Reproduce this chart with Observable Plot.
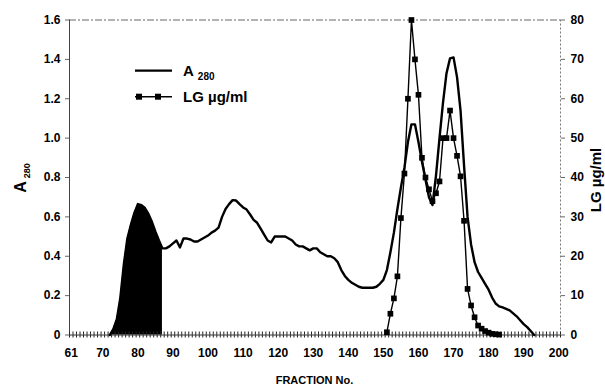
<!DOCTYPE html>
<html><head><meta charset="utf-8">
<script src="https://cdn.jsdelivr.net/npm/d3@7"></script>
<script src="https://cdn.jsdelivr.net/npm/@observablehq/plot@0.6"></script>
<style>
body{margin:0;background:#fff;}
#chart svg{display:block;}
</style></head><body><div id="chart"></div>
<script>
// A280 absorbance per fraction
const a280Fractions = [72,73,74,75,76,77,78,79,80,81,82,83,84,85,86,87,88,89,90,91,92,93,94,95,96,97,98,99,100,
  101,102,103,104,105,106,107,108,109,110,111,112,113,114,115,116,117,118,119,120,
  121,122,123,124,125,126,127,128,129,130,131,132,133,134,135,136,137,138,139,140,
  141,142,143,144,145,146,147,148,149,150,151,152,153,154,155,156,157,158,159,160,
  161,162,163,164,165,166,167,168,169,170,171,172,173,174,175,176,177,178,179,180,
  181,182,183,184,185,186,187,188,189,190,191,192,193];
const a280Values = [0,0.03,0.08,0.19,0.36,0.49,0.56,0.62,0.665,0.66,0.645,0.615,0.575,0.525,0.48,0.44,0.44,0.45,0.465,0.48,0.445,0.49,0.49,0.485,0.475,0.475,0.485,0.495,0.505,
  0.52,0.53,0.545,0.6,0.64,0.665,0.685,0.683,0.665,0.648,0.637,0.612,0.585,0.57,0.54,0.51,0.48,0.47,0.5,0.5,
  0.5,0.5,0.49,0.48,0.46,0.45,0.45,0.44,0.43,0.44,0.44,0.42,0.41,0.4,0.4,0.39,0.37,0.33,0.3,0.28,
  0.265,0.255,0.245,0.24,0.24,0.24,0.24,0.245,0.26,0.28,0.33,0.42,0.52,0.64,0.75,0.85,0.98,1.07,1.07,0.98,
  0.88,0.79,0.7,0.66,0.81,1.0,1.18,1.33,1.405,1.41,1.31,1.14,0.86,0.6,0.46,0.37,0.32,0.29,0.26,0.23,
  0.19,0.16,0.145,0.14,0.133,0.125,0.11,0.095,0.075,0.055,0.04,0.02,0];
// LG concentration (µg/ml) per fraction
const lgFractions = [151,152,153,154,155,156,157,158,159,160,161,162,163,164,165,166,167,168,169,170,
  171,172,173,174,175,176,177,178,179,180,181,182,183];
const lgValues = [0.7,5.4,9.3,14.9,29.7,41,60,80,70,61,45,40,37,34,36,39,50,50,57,50,
  45.5,40.3,29,11.7,7.5,4.5,2.4,1.6,1.0,0.6,0.3,0.2,0.1];
const shadedFractions = [72,87];          // black-filled pool
const xTickLabels = [61,70,80,90,100,110,120,130,140,150,160,170,180,190,200];
const leftTickLabels = [0,0.2,0.4,0.6,0.8,1.0,1.2,1.4,1.6];
const rightTickLabels = [0,10,20,30,40,50,60,70,80];

const k = 1.6 / 80; // right axis (LG) to left axis (A280)
const a280 = a280Fractions.map((f, i) => ({f, v: a280Values[i]}));
const lg = lgFractions.map((f, i) => ({f, v: lgValues[i] * k}));
const shaded = a280.filter(d => d.f >= shadedFractions[0] && d.f <= shadedFractions[1]);
const minorTicks = d3.range(60.5, 201, 1);

const font = "Liberation Sans, Arial, Helvetica, sans-serif";
const plot = Plot.plot({
  width: 605, height: 391,
  marginLeft: 69, marginRight: 45, marginTop: 19.5, marginBottom: 56.5,
  style: {fontFamily: font, fontSize: "12px", fontWeight: "bold", color: "#000", background: "#fff"},
  x: {domain: [60.5, 200.5]},
  y: {domain: [0, 1.6]},
  marks: [
    Plot.areaY(shaded, {x: "f", y: "v", fill: "#000"}),
    Plot.ruleY([1.6], {stroke: "#666", strokeWidth: 1, strokeDasharray: "7,2,2,2"}),
    Plot.ruleX([200.5], {stroke: "#777", strokeWidth: 1, strokeDasharray: "2,2"}),
    Plot.ruleX([60.5], {stroke: "#444", strokeWidth: 1}),
    Plot.axisX({ticks: minorTicks, tickSize: 3, tickFormat: () => "", label: null, stroke: "#222"}),
    Plot.axisX({ticks: minorTicks, tickSize: 3, tickFormat: () => "", label: null, stroke: "#222", dy: -3}),
    Plot.ruleY([0], {stroke: "#333", strokeWidth: 1}),
    Plot.axisX({ticks: xTickLabels, tickSize: 0, tickPadding: 13, label: null, tickFormat: d => String(d)}),
    Plot.axisY({anchor: "left", ticks: leftTickLabels, tickSize: 4, tickPadding: 5, label: null,
      tickFormat: d => d === 0 ? "0" : d.toFixed(1), stroke: "#666"}),
    Plot.axisY({anchor: "right", ticks: rightTickLabels.map(t => t * k), tickSize: 4, tickPadding: 6, label: null,
      tickFormat: d => String(Math.round(d / k)), stroke: "#666"}),
    Plot.lineY(a280, {x: "f", y: "v", stroke: "#000", strokeWidth: 2.4, curve: "linear"}),
    Plot.lineY(lg, {x: "f", y: "v", stroke: "#000", strokeWidth: 1.4}),
    Plot.dot(lg, {x: "f", y: "v", symbol: "square", r: 3.2, fill: "#000", stroke: "none"})
  ]
});
document.getElementById("chart").appendChild(plot);

const svg = d3.select(plot);
// axis titles
svg.append("text").attr("x", 314.5).attr("y", 384).attr("text-anchor", "middle")
  .attr("font-family", font).attr("font-weight", "bold").attr("font-size", 11).text("FRACTION No.");
const yl = svg.append("text").attr("transform", "translate(26,178) rotate(-90)").attr("text-anchor", "middle")
  .attr("font-family", font).attr("font-weight", "bold");
yl.append("tspan").attr("font-size", 16).text("A");
yl.append("tspan").attr("font-size", 9).attr("dx", 3).attr("dy", 4).text("280");
svg.append("text").attr("transform", "translate(601,180) rotate(-90)").attr("text-anchor", "middle")
  .attr("font-family", font).attr("font-weight", "bold").attr("font-size", 15).text("LG µg/ml");
// legend
const lgd = svg.append("g").attr("text-anchor", "start");
lgd.append("line").attr("x1", 135).attr("x2", 172).attr("y1", 70.7).attr("y2", 70.7).attr("stroke", "#000").attr("stroke-width", 2.3);
const t1 = lgd.append("text").attr("x", 183).attr("y", 76).attr("text-anchor", "start").attr("font-family", font).attr("font-weight", "bold");
t1.append("tspan").attr("font-size", 15).text("A");
t1.append("tspan").attr("font-size", 10).attr("dx", 4).attr("dy", 4).text("280");
lgd.append("line").attr("x1", 135).attr("x2", 172).attr("y1", 96.7).attr("y2", 96.7).attr("stroke", "#000").attr("stroke-width", 1.4);
[139, 158].forEach(x => lgd.append("rect").attr("x", x - 3).attr("y", 93.7).attr("width", 6).attr("height", 6).attr("fill", "#000"));
lgd.append("text").attr("x", 183).attr("y", 102).attr("text-anchor", "start").attr("font-family", font).attr("font-weight", "bold")
  .attr("font-size", 15).text("LG µg/ml");
</script></body></html>
